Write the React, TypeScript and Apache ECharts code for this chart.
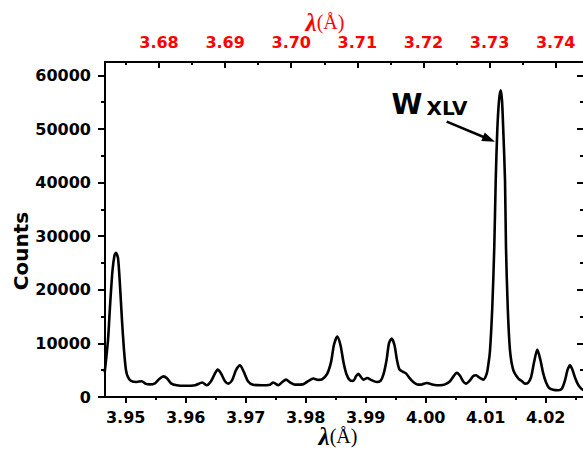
import React, { useEffect, useRef } from "react";
import * as echarts from "echarts";

// Spectrum: wavelength (Å) and detector counts
const wavelength = [
  3.9465, 3.94705, 3.94738, 3.9478, 3.94813, 3.94838, 3.94872, 3.94905, 3.94938, 3.94972,
  3.95005, 3.95038, 3.95088, 3.95183, 3.95267, 3.95338, 3.95405, 3.95488, 3.95555, 3.95627,
  3.95688, 3.95755, 3.9585, 3.95988, 3.96155, 3.96277, 3.9635, 3.96422, 3.96488, 3.96533,
  3.96588, 3.96655, 3.9671, 3.96772, 3.96838, 3.96905, 3.96972, 3.97038, 3.97122, 3.97272,
  3.97405, 3.9746, 3.97543, 3.97605, 3.97672, 3.97738, 3.97822, 3.97955, 3.98038, 3.98127,
  3.98205, 3.98272, 3.98355, 3.98422, 3.98472, 3.98527, 3.9858, 3.9863, 3.9868, 3.98738,
  3.98793, 3.98838, 3.98877, 3.98913, 3.9896, 3.99027, 3.99088, 3.99183, 3.99247, 3.99297,
  3.99347, 3.99388, 3.99433, 3.9948, 3.99522, 3.99563, 3.99622, 3.99672, 3.99722, 3.99788,
  3.99877, 3.99938, 4.00017, 4.00127, 4.00238, 4.00322, 4.00405, 4.00463, 4.00517, 4.00572,
  4.00622, 4.00672, 4.00738, 4.00788, 4.00838, 4.00897, 4.0096, 4.01017, 4.01047, 4.01072,
  4.0111, 4.01143, 4.01167, 4.01193, 4.01222, 4.0125, 4.01272, 4.01293, 4.01322, 4.01338,
  4.01367, 4.01405, 4.0146, 4.01543, 4.01605, 4.01655, 4.01705, 4.01755, 4.01805, 4.0186,
  4.01913, 4.0196, 4.02005, 4.02055, 4.02122, 4.0221, 4.02272, 4.02322, 4.02363, 4.02405,
  4.02447, 4.02488, 4.02538, 4.02588, 4.02638, 4.02675,
];
const counts = [
  4600, 10600, 16800, 23600, 26400, 26900, 25900, 20800, 14300, 8700,
  5000, 3700, 3000, 2800, 2950, 2450, 2350, 2550, 3300, 3850,
  3500, 2550, 2200, 2100, 2200, 2700, 2200, 2950, 4400, 5100,
  4400, 2950, 2500, 3100, 5000, 5900, 4600, 2950, 2300, 2200,
  2300, 2700, 2200, 2750, 3250, 2750, 2300, 2350, 2950, 3450,
  3200, 3300, 4250, 6500, 9800, 11300, 9650, 6500, 4250, 3100,
  3000, 3850, 4350, 3850, 3250, 3550, 3200, 2800, 3000, 4250,
  6850, 10000, 10900, 9650, 6850, 5150, 4700, 4400, 3650, 2850,
  2300, 2350, 2600, 2300, 2200, 2350, 2950, 3850, 4500, 3950,
  2950, 2500, 3100, 3850, 4050, 3600, 3250, 4350, 6300, 8700,
  16800, 28000, 40400, 49750, 55300, 57200, 55300, 49750, 40400, 28000,
  16800, 8700, 5000, 3450, 2950, 2500, 2650, 3650, 6450, 8850,
  6850, 4350, 2750, 1700, 1350, 1250, 1600, 3100, 5000, 5900,
  5050, 3650, 2350, 1600, 1250, 1150,
];

// Axis tick positions
const bottomTicks = [3.95, 3.96, 3.97, 3.98, 3.99, 4.0, 4.01, 4.02];
const bottomMinorTicks = [3.955, 3.965, 3.975, 3.985, 3.995, 4.005, 4.015, 4.025];
const topTicks = [3.68, 3.69, 3.7, 3.71, 3.72, 3.73, 3.74];
const topMinorTicks = [3.675, 3.685, 3.695, 3.705, 3.715, 3.725, 3.735];
const countTicks = [0, 10000, 20000, 30000, 40000, 50000, 60000];
const countMinorTicks = [5000, 15000, 25000, 35000, 45000, 55000];

const BOTTOM_MIN = 3.94655;
const BOTTOM_MAX = 4.026717;
const TOP_MIN = 3.671833;
const TOP_MAX = 3.744583;
const COUNT_MAX = 62500;

const FONT = '"DejaVu Sans", "Liberation Sans", Arial, sans-serif';
const SERIF = '"Liberation Serif", "Times New Roman", serif';
const RED = "#ff0000";

function xAxisDef(
  position: "top" | "bottom",
  min: number,
  max: number,
  values: number[],
  tickLen: number,
  inside: boolean,
  withLine: boolean,
  labels: null | { color: string; margin: number }
) {
  return {
    type: "value",
    position,
    min,
    max,
    gridIndex: 0,
    axisLine: { show: withLine, onZero: false, lineStyle: { color: "#000", width: 2 } },
    axisTick: {
      show: true,
      inside,
      length: tickLen,
      customValues: values,
      lineStyle: { color: "#000", width: 2 },
    },
    axisLabel: labels
      ? {
          show: true,
          customValues: values,
          margin: labels.margin,
          color: labels.color,
          fontFamily: FONT,
          fontWeight: "bold",
          fontSize: 16,
          formatter: (v: number) => v.toFixed(2),
        }
      : { show: false },
    splitLine: { show: false },
  };
}

function yAxisDef(
  position: "left" | "right",
  values: number[],
  tickLen: number,
  inside: boolean,
  withLine: boolean,
  withLabels: boolean
) {
  return {
    type: "value",
    position,
    min: 0,
    max: COUNT_MAX,
    gridIndex: 0,
    axisLine: { show: withLine, onZero: false, lineStyle: { color: "#000", width: 2 } },
    axisTick: {
      show: true,
      inside,
      length: tickLen,
      customValues: values,
      lineStyle: { color: "#000", width: 2 },
    },
    axisLabel: withLabels
      ? {
          show: true,
          customValues: values,
          margin: 14,
          color: "#000",
          fontFamily: FONT,
          fontWeight: "bold",
          fontSize: 16,
          formatter: (v: number) => String(v),
        }
      : { show: false },
    splitLine: { show: false },
  };
}

export default function App() {
  const ref = useRef<HTMLDivElement>(null);

  useEffect(() => {
    if (!ref.current) return;
    const chart = echarts.init(ref.current, null, { renderer: "svg" });

    const seriesData = wavelength.map((w, i) => [w, counts[i]]);

    // Arrow pointing at the strong line
    const arrowTail = [446.7, 121.7];
    const arrowTip = [495, 141.7];
    const dx = arrowTip[0] - arrowTail[0];
    const dy = arrowTip[1] - arrowTail[1];
    const len = Math.hypot(dx, dy);
    const ux = dx / len;
    const uy = dy / len;
    const headLen = 13;
    const headHalf = 4.5;
    const bx = arrowTip[0] - ux * headLen;
    const by = arrowTip[1] - uy * headLen;

    chart.setOption({
      animation: false,
      backgroundColor: "#fff",
      grid: { left: 105, right: 0, top: 62, bottom: 53, containLabel: false },
      xAxis: [
        xAxisDef("bottom", BOTTOM_MIN, BOTTOM_MAX, bottomTicks, 6, false, true, { color: "#000", margin: 12 }),
        xAxisDef("bottom", BOTTOM_MIN, BOTTOM_MAX, bottomMinorTicks, 3, false, false, null),
        xAxisDef("top", TOP_MIN, TOP_MAX, topTicks, 6, true, true, { color: RED, margin: 12 }),
        xAxisDef("top", TOP_MIN, TOP_MAX, topMinorTicks, 3, true, false, null),
      ],
      yAxis: [
        yAxisDef("left", countTicks, 7, false, true, true),
        yAxisDef("left", countMinorTicks, 4, false, false, false),
        yAxisDef("right", countTicks, 9, true, true, false),
        yAxisDef("right", countMinorTicks, 6, true, false, false),
      ],
      series: [
        {
          type: "line",
          xAxisIndex: 0,
          yAxisIndex: 0,
          data: seriesData,
          showSymbol: false,
          smooth: 0.25,
          clip: true,
          lineStyle: { color: "#000", width: 2.6 },
        },
      ],
      graphic: [
        {
          type: "text",
          x: 325,
          y: 22,
          style: {
            text: "{l|λ}{u|(Å)}",
            align: "center",
            verticalAlign: "middle",
            rich: {
              l: { font: `italic bold 25px ${SERIF}`, fill: RED },
              u: { font: `20px ${SERIF}`, fill: RED },
            },
          },
        },
        {
          type: "text",
          x: 338,
          y: 436,
          style: {
            text: "{l|λ}{u|(Å)}",
            align: "center",
            verticalAlign: "middle",
            rich: {
              l: { font: `italic bold 25px ${SERIF}`, fill: "#000" },
              u: { font: `20px ${SERIF}`, fill: "#000" },
            },
          },
        },
        {
          type: "text",
          x: 21,
          y: 251,
          rotation: Math.PI / 2,
          style: {
            text: "Counts",
            font: `bold 20px ${FONT}`,
            fill: "#000",
            align: "center",
            verticalAlign: "middle",
          },
        },
        {
          type: "text",
          x: 391.5,
          y: 104.5,
          style: {
            text: "W",
            font: `bold 28px ${FONT}`,
            fill: "#000",
            align: "left",
            verticalAlign: "middle",
          },
        },
        {
          type: "text",
          x: 426.5,
          y: 108,
          style: {
            text: "XLV",
            font: `bold 20px ${FONT}`,
            fill: "#000",
            align: "left",
            verticalAlign: "middle",
          },
        },
        {
          type: "line",
          shape: { x1: arrowTail[0], y1: arrowTail[1], x2: bx + ux * 2, y2: by + uy * 2 },
          style: { stroke: "#000", lineWidth: 2.5 },
        },
        {
          type: "polygon",
          shape: {
            points: [
              [arrowTip[0], arrowTip[1]],
              [bx - uy * headHalf, by + ux * headHalf],
              [bx + uy * headHalf, by - ux * headHalf],
            ],
          },
          style: { fill: "#000" },
        },
      ],
    });

    return () => chart.dispose();
  }, []);

  return (
    <div
      style={{ position: "fixed", left: 0, top: 0, width: 583, height: 450, overflow: "hidden", background: "#fff" }}
    >
      <div ref={ref} style={{ width: 586, height: 450 }} />
    </div>
  );
}
